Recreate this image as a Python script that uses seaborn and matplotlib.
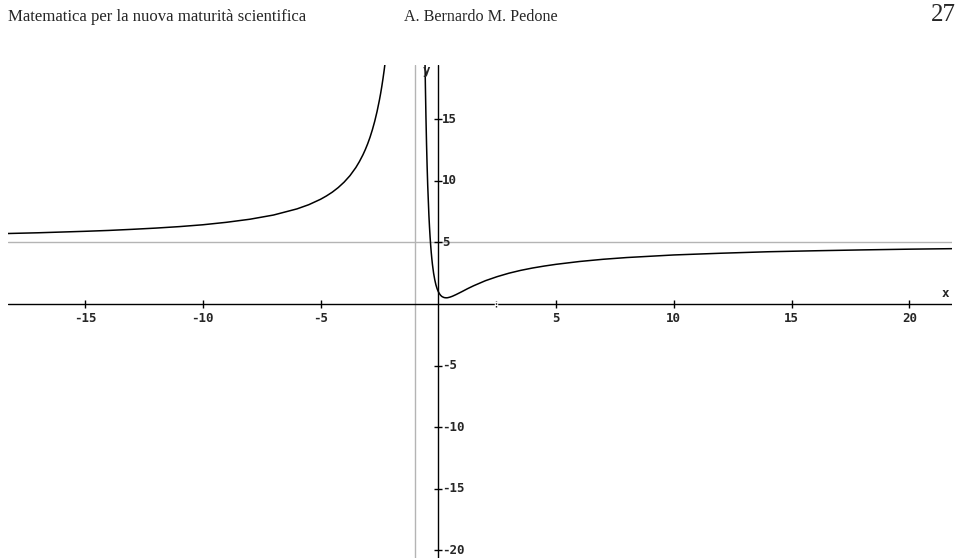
import matplotlib
matplotlib.use("Agg")
import matplotlib.pyplot as plt
import seaborn as sns
import pandas as pd

# ---- data ----
left_x = [-18.3, -17, -16, -15, -14, -13, -12, -11, -10, -9, -8, -7, -6, -5.5, -5,
          -4.75, -4.5, -4.25, -4, -3.75, -3.5, -3.35, -3.2, -3.1, -3, -2.9, -2.8, -2.7,
          -2.6, -2.5, -2.45, -2.4, -2.35, -2.3, -2.25, -2.2]
left_y = [5.72, 5.78, 5.84, 5.90, 5.97, 6.06, 6.16, 6.28, 6.43, 6.63, 6.88, 7.22, 7.72, 8.06, 8.50,
          8.77, 9.08, 9.45, 9.89, 10.42, 11.08, 11.56, 12.11, 12.53, 13.00, 13.53, 14.14, 14.83,
          15.63, 16.56, 17.08, 17.65, 18.28, 18.96, 19.72, 20.56]

right_x = [-0.57, -0.55, -0.525, -0.5, -0.475, -0.45, -0.4, -0.375, -0.35, -0.325, -0.3,
           -0.275, -0.25, -0.2, -0.15, -0.1, -0.05, 0, 0.05, 0.1, 0.15, 0.2, 0.25, 0.33, 0.4,
           0.5, 0.6, 0.75, 1, 1.25, 1.5, 2, 2.5, 3, 3.5, 4, 4.5, 5, 6, 7, 8,
           10, 12, 14, 16, 18, 20, 21.8]
right_y = [20.36, 17.84, 15.19, 13.00, 11.17, 9.63, 7.22, 6.28, 5.47, 4.78, 4.18,
           3.67, 3.22, 2.50, 1.96, 1.54, 1.23, 1.00, 0.83, 0.70, 0.61, 0.56, 0.52, 0.50, 0.51,
           0.56, 0.63, 0.76, 1.00, 1.25, 1.48, 1.89, 2.22, 2.50, 2.73, 2.92, 3.08, 3.22, 3.45,
           3.63, 3.77, 3.98, 4.12, 4.24, 4.32, 4.39, 4.45, 4.49]

x_ticks = [-15, -10, -5, 5, 10, 15, 20]
y_ticks = [15, 10, 5, -5, -10, -15, -20]
asym_x = -1
asym_y = 5

header_left = "Matematica per la nuova maturità scientifica"
header_mid = "A. Bernardo M. Pedone"
header_page = "27"

# ---- figure ----
sns.set_style("white")
plt.rcParams['font.family'] = ['DejaVu Sans']

W, H = 960, 560
XL = (-18.27, 21.81)
YL = (-20.62, 19.4)
fig = plt.figure(figsize=(W / 100, H / 100), dpi=100)
ax = fig.add_axes([8 / W, 2 / H, 944 / W, 493 / H])

grey = "#b4b4b4"
ax.axhline(asym_y, color=grey, lw=1.0, zorder=1)
ax.axvline(asym_x, color=grey, lw=1.0, zorder=1)
ax.axhline(0, color="black", lw=1.0, zorder=2)
ax.axvline(0, color="black", lw=1.0, zorder=2)

df_l = pd.DataFrame({"x": left_x, "y": left_y})
df_r = pd.DataFrame({"x": right_x, "y": right_y})
sns.lineplot(data=df_l, x="x", y="y", sort=False, estimator=None, color="black", lw=1.1, ax=ax, zorder=3)
sns.lineplot(data=df_r, x="x", y="y", sort=False, estimator=None, color="black", lw=1.1, ax=ax, zorder=3)
ax.set_xlim(*XL)
ax.set_ylim(*YL)
ax.axis("off")

# ticks
ax.plot(x_ticks, [0] * len(x_ticks), ls="none", marker="|", ms=5.5, mew=1.0, color="black", zorder=4)
ax.plot([0] * len(y_ticks), y_ticks, ls="none", marker="_", ms=5.5, mew=1.0, color="black", zorder=4)
# small dashed gap marker on the x axis
ax.plot([2.45], [0], ls="none", marker="|", ms=6, mew=2.5, color="white", zorder=4)
ax.plot([2.45, 2.45], [-0.25, 0.25], ls=(0, (1, 1)), lw=1.0, color="black", zorder=5)

mono = dict(family="DejaVu Sans Mono", weight="bold", fontsize=9)
for t in x_ticks:
    ax.annotate(str(t), (t, 0), xytext=(0, -8), textcoords="offset pixels",
                ha="center", va="top", **mono)
for t in y_ticks:
    ax.annotate(str(t), (0, t), xytext=(4, 0), textcoords="offset pixels",
                ha="left", va="center", **mono)
ax.annotate("x", (XL[1], 0), xytext=(-7, 10), textcoords="offset pixels",
            ha="center", va="center", **mono)
ax.annotate("y", (0, YL[1]), xytext=(-12, -6), textcoords="offset pixels",
            ha="center", va="center", **mono)

# header
serif = dict(family="Liberation Serif")
fig.text(8 / W, 1 - 21 / H, header_left, ha="left", va="baseline", fontsize=12.1, **serif)
fig.text(404 / W, 1 - 21 / H, header_mid, ha="left", va="baseline", fontsize=11.6, **serif)
fig.text(956 / W, 1 - 21 / H, header_page, ha="right", va="baseline", fontsize=18, **serif)

fig.savefig("out.png", dpi=100)
